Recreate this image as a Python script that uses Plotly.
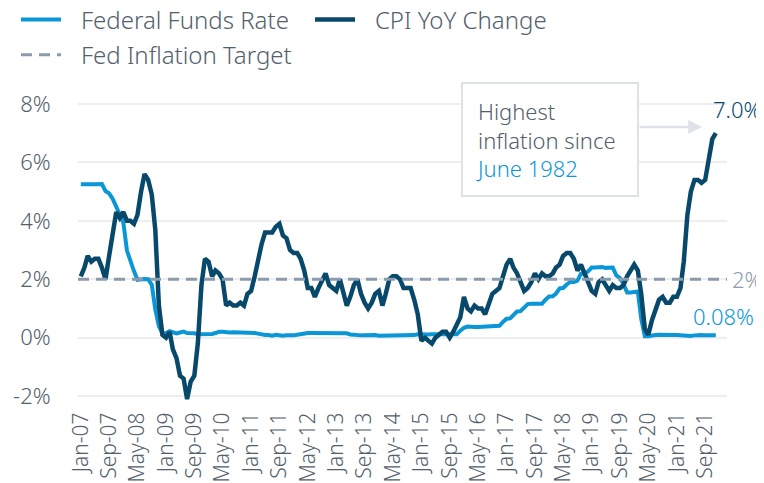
import pandas as pd
import plotly.graph_objects as go

# Monthly data, Jan 2007 - Dec 2021 (12 values per row = one year)
months = pd.date_range("2007-01-01", "2021-12-01", freq="MS")

fed_funds_rate = [
    5.25, 5.26, 5.26, 5.25, 5.25, 5.25, 5.26, 5.02, 4.94, 4.76, 4.49, 4.24,  # 2007
    3.94, 2.98, 2.61, 2.28, 1.98, 2.00, 2.01, 2.00, 1.81, 0.97, 0.39, 0.16,  # 2008
    0.15, 0.22, 0.18, 0.15, 0.18, 0.21, 0.16, 0.16, 0.15, 0.12, 0.12, 0.12,  # 2009
    0.11, 0.13, 0.16, 0.20, 0.20, 0.18, 0.18, 0.19, 0.19, 0.19, 0.19, 0.18,  # 2010
    0.17, 0.16, 0.14, 0.10, 0.09, 0.09, 0.07, 0.10, 0.08, 0.07, 0.08, 0.07,  # 2011
    0.08, 0.10, 0.13, 0.14, 0.16, 0.16, 0.16, 0.13, 0.14, 0.16, 0.16, 0.16,  # 2012
    0.14, 0.15, 0.14, 0.15, 0.11, 0.09, 0.09, 0.08, 0.08, 0.09, 0.08, 0.09,  # 2013
    0.07, 0.07, 0.08, 0.09, 0.09, 0.10, 0.09, 0.09, 0.09, 0.09, 0.09, 0.12,  # 2014
    0.11, 0.11, 0.11, 0.12, 0.12, 0.13, 0.13, 0.14, 0.14, 0.12, 0.12, 0.24,  # 2015
    0.34, 0.38, 0.36, 0.37, 0.37, 0.38, 0.39, 0.40, 0.40, 0.40, 0.41, 0.54,  # 2016
    0.65, 0.66, 0.79, 0.90, 0.91, 1.04, 1.15, 1.16, 1.15, 1.15, 1.16, 1.30,  # 2017
    1.41, 1.42, 1.51, 1.69, 1.70, 1.82, 1.91, 1.91, 1.95, 2.19, 2.20, 2.27,  # 2018
    2.40, 2.40, 2.41, 2.42, 2.39, 2.38, 2.40, 2.13, 2.04, 1.83, 1.55, 1.55,  # 2019
    1.55, 1.58, 0.65, 0.05, 0.05, 0.08, 0.09, 0.10, 0.09, 0.09, 0.09, 0.09,  # 2020
    0.09, 0.08, 0.07, 0.07, 0.06, 0.08, 0.10, 0.09, 0.08, 0.08, 0.08, 0.08,  # 2021
]

cpi_yoy = [
    2.1, 2.4, 2.8, 2.6, 2.7, 2.7, 2.4, 2.0, 2.8, 3.5, 4.3, 4.1,  # 2007
    4.3, 4.0, 4.0, 3.9, 4.2, 5.0, 5.6, 5.4, 4.9, 3.7, 1.1, 0.1,  # 2008
    0.0, 0.2, -0.4, -0.7, -1.3, -1.4, -2.1, -1.5, -1.3, -0.2, 1.8, 2.7,  # 2009
    2.6, 2.1, 2.3, 2.2, 2.0, 1.1, 1.2, 1.1, 1.1, 1.2, 1.1, 1.5,  # 2010
    1.6, 2.1, 2.7, 3.2, 3.6, 3.6, 3.6, 3.8, 3.9, 3.5, 3.4, 3.0,  # 2011
    2.9, 2.9, 2.7, 2.3, 1.7, 1.7, 1.4, 1.7, 2.0, 2.2, 1.8, 1.7,  # 2012
    1.6, 2.0, 1.5, 1.1, 1.4, 1.8, 2.0, 1.5, 1.2, 1.0, 1.2, 1.5,  # 2013
    1.6, 1.1, 1.5, 2.0, 2.1, 2.1, 2.0, 1.7, 1.7, 1.7, 1.3, 0.8,  # 2014
    -0.1, 0.0, -0.1, -0.2, 0.0, 0.1, 0.2, 0.2, 0.0, 0.2, 0.5, 0.7,  # 2015
    1.4, 1.0, 0.9, 1.1, 1.0, 1.0, 0.8, 1.1, 1.5, 1.6, 1.7, 2.1,  # 2016
    2.5, 2.7, 2.4, 2.2, 1.9, 1.6, 1.7, 1.9, 2.2, 2.0, 2.2, 2.1,  # 2017
    2.1, 2.2, 2.4, 2.5, 2.8, 2.9, 2.9, 2.7, 2.3, 2.5, 2.2, 1.9,  # 2018
    1.6, 1.5, 1.9, 2.0, 1.8, 1.6, 1.8, 1.7, 1.7, 1.8, 2.1, 2.3,  # 2019
    2.5, 2.3, 1.5, 0.3, 0.1, 0.6, 1.0, 1.3, 1.4, 1.2, 1.2, 1.4,  # 2020
    1.4, 1.7, 2.6, 4.2, 5.0, 5.4, 5.4, 5.3, 5.4, 6.2, 6.8, 7.0,  # 2021
]

inflation_target = 2.0
y_ticks = [-2, 0, 2, 4, 6, 8]
y_tick_labels = ["-2%", "0%", "2%", "4%", "6%", "8%"]
x_range = ["2006-12-08", "2022-03-07"]

# Colours / fonts
light_blue = "#0b97d7"
navy = "#08496b"
target_grey = "#8a9bad"
text_grey = "#52606c"
font_family = "'Noto Sans', sans-serif"
pad = "\u00a0\u00a0\u200a"  # gap between legend swatch and label

fig = go.Figure()

fig.add_trace(go.Scatter(
    x=months, y=fed_funds_rate, name=pad + "Federal Funds Rate",
    mode="lines", line=dict(color=light_blue, width=4),
))
fig.add_trace(go.Scatter(
    x=months, y=cpi_yoy, name=pad + "CPI YoY Change",
    mode="lines", line=dict(color=navy, width=4.5),
))
# target line runs across the whole plot width
fig.add_trace(go.Scatter(
    x=x_range, y=[inflation_target, inflation_target],
    name=pad + "Fed Inflation Target", mode="lines", legend="legend2",
    line=dict(color=target_grey, width=3, dash="11px,7px"),
))

# Callout box with its text
fig.add_shape(
    type="rect", xref="paper", yref="paper",
    x0=0.5917, x1=0.8629, y0=0.6848, y1=1.0597,
    fillcolor="white", line=dict(color="#dde2e8", width=2), layer="above",
)
fig.add_annotation(
    xref="paper", yref="paper", x=0.6101, y=0.873, xanchor="left", yanchor="middle",
    text="Highest<br>inflation since<br><span style='color:%s'>June 1982</span>" % light_blue,
    showarrow=False, align="left",
    font=dict(size=22, color=text_grey, family=font_family, weight=300),
)
fig.add_annotation(
    xref="paper", yref="paper", x=0.9615, y=0.9137, ax=-64, ay=0,
    text="", showarrow=True, arrowhead=2, arrowsize=1.1, arrowwidth=2.5,
    arrowcolor="#dde2e8",
)

# End-of-series labels
label_font = dict(size=22, family=font_family, weight=300)
fig.add_annotation(
    xref="paper", yref="paper", x=0.976, y=0.973, xanchor="left", yanchor="middle",
    text="7.0%", showarrow=False, font=dict(label_font, color=navy),
)
fig.add_annotation(
    xref="paper", yref="paper", x=1.005, y=0.409, xanchor="left", yanchor="middle",
    text="2%", showarrow=False, font=dict(label_font, color=target_grey),
)
fig.add_annotation(
    xref="paper", yref="paper", x=0.944, y=0.285, xanchor="left", yanchor="middle",
    text="0.08%", showarrow=False, font=dict(label_font, color=light_blue),
)

legend_common = dict(
    orientation="h", xref="container", yref="container",
    xanchor="left", yanchor="middle",
    font=dict(size=24, color=text_grey, family=font_family, weight=300),
    bgcolor="rgba(0,0,0,0)", itemwidth=40,
)

fig.update_layout(
    width=756, height=475,
    margin=dict(l=70, r=37, t=93, b=81),
    plot_bgcolor="white", paper_bgcolor="white",
    font=dict(family=font_family, color=text_grey, size=21, weight=300),
    showlegend=True,
    legend=dict(legend_common, x=0.0106, y=0.975,
                entrywidth=239, entrywidthmode="pixels"),
    legend2=dict(legend_common, x=0.0106, y=0.901),
    xaxis=dict(
        type="date", automargin=False, range=x_range,
        tick0="2007-01-01", dtick="M8", tickformat="%b-%y",
        tickangle=-90, showgrid=False, zeroline=False, showline=False,
        ticks="outside", ticklen=1, tickcolor="rgba(0,0,0,0)",
        tickfont=dict(size=21, color=text_grey, family=font_family, weight=300),
    ),
    yaxis=dict(
        automargin=False,
        range=[-2.2, 8.1], tickvals=y_ticks, ticktext=y_tick_labels,
        showgrid=True, gridcolor="#eeeeee", gridwidth=2, zeroline=False,
        ticks="outside", ticklen=22, tickcolor="rgba(0,0,0,0)",
        tickfont=dict(size=22, color=text_grey, family=font_family, weight=300),
    ),
)

fig.write_html("out.html")
